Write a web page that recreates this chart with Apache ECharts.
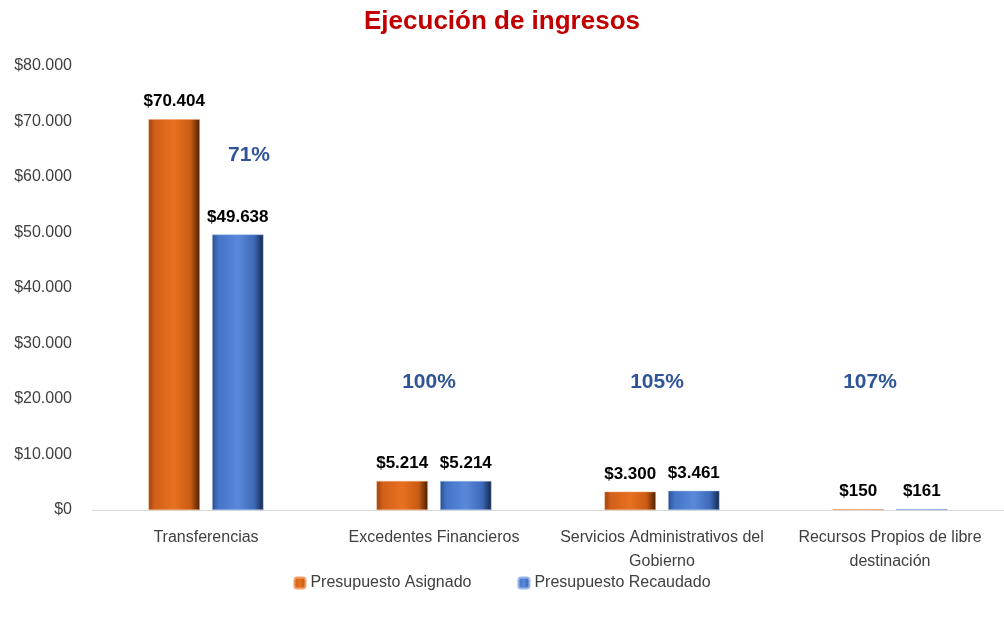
<!DOCTYPE html>
<html>
<head>
<meta charset="utf-8">
<script src="https://cdn.jsdelivr.net/npm/echarts@6/dist/echarts.min.js"></script>
<style>
  html, body { margin: 0; padding: 0; background: #fff; }
  #chart { width: 1004px; height: 618px; }
</style>
</head>
<body>
<div id="chart"></div>
<script>
var categories = ['Transferencias', 'Excedentes Financieros', 'Servicios Administrativos del\nGobierno', 'Recursos Propios de libre\ndestinación'];
var asignado = [70404, 5214, 3300, 150];
var recaudado = [49638, 5214, 3461, 161];
var yTicks = [0, 10000, 20000, 30000, 40000, 50000, 60000, 70000, 80000];

function money(v) {
    return '$' + String(Math.round(v)).replace(/\B(?=(\d{3})+(?!\d))/g, '.');
}

// porcentaje de ejecucion = recaudado / asignado
var pct = recaudado.map(function (v, i) { return Math.round(v / asignado[i] * 100) + '%'; });

var chart = echarts.init(document.getElementById('chart'));

function grad(stops) {
    return new echarts.graphic.LinearGradient(0, 0, 1, 0, stops.map(function (s) {
        return { offset: s[0], color: s[1] };
    }));
}

var orange = grad([[0, '#9c4210'], [0.12, '#d2601a'], [0.5, '#e8711f'], [0.82, '#c95c14'], [1, '#4a1f03']]);
var blue = grad([[0, '#2c4f8e'], [0.12, '#4474c6'], [0.5, '#5a89dc'], [0.82, '#3d69b8'], [1, '#14264a']]);

var valueLabel = {
    show: true,
    position: 'top',
    distance: 9,
    color: '#000',
    fontWeight: 'bold',
    fontSize: 17,
    fontFamily: 'Liberation Sans',
    formatter: function (p) { return money(p.value); }
};

var option = {
    backgroundColor: '#fff',
    title: {
        text: 'Ejecución de ingresos',
        left: 'center',
        top: 4,
        textStyle: { color: '#c00000', fontSize: 26, fontWeight: 'bold', fontFamily: 'Liberation Sans' }
    },
    legend: {
        bottom: 22,
        left: 'center',
        itemWidth: 11,
        itemHeight: 11,
        itemGap: 46,
        data: ['Presupuesto Asignado', 'Presupuesto Recaudado'],
        textStyle: { color: '#404040', fontSize: 16, fontFamily: 'Liberation Sans' }
    },
    grid: { left: 92, right: -9, top: 66, bottom: 108 },
    xAxis: {
        type: 'category',
        data: categories,
        axisLine: { lineStyle: { color: '#d9d9d9', width: 1 } },
        axisTick: { show: false },
        axisLabel: { color: '#404040', fontSize: 16, lineHeight: 24, margin: 16, fontFamily: 'Liberation Sans', interval: 0 }
    },
    yAxis: {
        type: 'value',
        min: 0,
        max: yTicks[yTicks.length - 1],
        interval: yTicks[1] - yTicks[0],
        axisLine: { show: false },
        axisTick: { show: false },
        splitLine: { show: false },
        axisLabel: { color: '#404040', fontSize: 16, margin: 20, fontFamily: 'Liberation Sans', formatter: money }
    },
    series: [
        {
            name: 'Presupuesto Asignado',
            type: 'bar',
            data: asignado,
            barWidth: '22.5%',
            barGap: '24%',
            itemStyle: { color: orange, borderColor: '#f0a06a', borderWidth: 0.5 },
            label: valueLabel
        },
        {
            name: 'Presupuesto Recaudado',
            type: 'bar',
            data: recaudado,
            barWidth: '22.5%',
            itemStyle: { color: blue, borderColor: '#9ab6e8', borderWidth: 0.5 },
            label: valueLabel
        },
        {
            name: 'pct',
            type: 'scatter',
            symbolSize: 0,
            silent: true,
            itemStyle: { opacity: 1 },
            data: categories.map(function (c, i) {
                return {
                    value: i === 0 ? 64000 : 23000,
                    label: { offset: i === 0 ? [43, 0] : (i === 3 ? [-20, 0] : [-5, 0]) }
                };
            }),
            label: {
                show: true,
                position: 'inside',
                color: '#2f5597',
                fontWeight: 'bold',
                fontSize: 21,
                fontFamily: 'Liberation Sans',
                formatter: function (p) { return pct[p.dataIndex]; }
            }
        }
    ]
};
chart.setOption(option);
</script>
</body>
</html>
